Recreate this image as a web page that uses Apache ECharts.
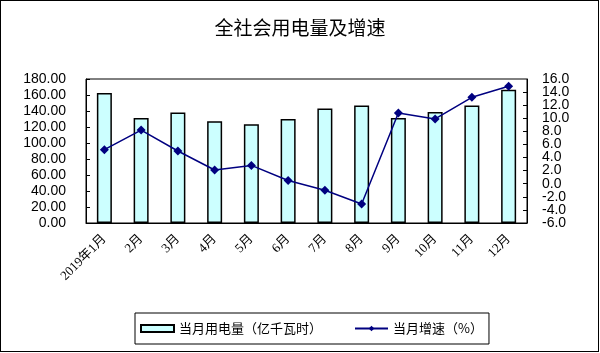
<!DOCTYPE html>
<html>
<head>
<meta charset="utf-8">
<script src="https://cdn.jsdelivr.net/npm/echarts@6/dist/echarts.min.js"></script>
<style>
  html, body { margin: 0; padding: 0; background: #fff; }
  #main { width: 600px; height: 353px; }
  #frame { position: absolute; left: 0; top: 0; width: 599px; height: 352px; border: 1px solid #000; box-sizing: border-box; pointer-events: none; }
</style>
</head>
<body>
<div id="main"></div>
<div id="frame"></div>
<script>
// 月份
const months = ['2019年1月', '2月', '3月', '4月', '5月', '6月', '7月', '8月', '9月', '10月', '11月', '12月']
// 当月用电量（亿千瓦时）
const usage = [162.5, 131.2, 138.0, 127.1, 123.4, 130.0, 143.0, 147.0, 131.2, 138.7, 147.0, 166.7]
// 当月增速（%）
const growth = [5.2, 8.2, 5.0, 2.1, 2.8, 0.5, -1.0, -3.1, 10.8, 9.9, 13.2, 14.9]
// 右轴范围
const rateMin = -6
const rateMax = 16

const chartDom = document.getElementById('main')
const myChart = echarts.init(chartDom)

const sans = "'Liberation Sans', 'Noto Sans CJK SC', sans-serif"

const rightLabel = {
    margin: 15,
    fontFamily: sans,
    fontSize: 14,
    color: '#000'
}

const option = {
    animation: false,
    title: {
        text: '全社会用电量及增速',
        left: 'center',
        top: 13,
        textStyle: {
            fontFamily: "'Noto Sans CJK SC', sans-serif",
            fontSize: 19,
            fontWeight: 'normal',
            color: '#000'
        }
    },
    legend: {
        bottom: 9,
        left: 135,
        borderColor: '#000',
        borderWidth: 1,
        borderRadius: 0,
        padding: [9, 6, 9, 5],
        itemGap: 32,
        itemWidth: 33,
        itemHeight: 7,
        textStyle: {
            fontFamily: "'Noto Sans CJK SC', sans-serif",
            fontSize: 13,
            color: '#000'
        },
        data: [
            { name: '当月用电量（亿千瓦时）', icon: 'rect' },
            { name: '当月增速（%）' }
        ]
    },
    grid: {
        left: 86,
        right: 73,
        top: 79,
        bottom: 130,
        show: true,
        borderColor: '#000',
        borderWidth: 1
    },
    xAxis: {
        type: 'category',
        data: months,
        axisLine: { lineStyle: { color: '#000' } },
        axisTick: { inside: true, length: 4, lineStyle: { color: '#000' } },
        axisLabel: {
            rotate: 45,
            margin: 14,
            fontFamily: "'Liberation Serif', 'Noto Sans CJK SC', serif",
            fontSize: 13,
            color: '#000'
        }
    },
    yAxis: [
        {
            type: 'value',
            min: 0,
            max: 180,
            interval: 20,
            splitLine: { show: false },
            axisLine: { show: true, lineStyle: { color: '#000' } },
            axisTick: { show: true, inside: true, length: 4, lineStyle: { color: '#000' } },
            axisLabel: {
                formatter: v => v.toFixed(2),
                margin: 20,
                showMinLabel: true,
                showMaxLabel: true,
                fontFamily: sans,
                fontSize: 14,
                color: '#000'
            }
        },
        {
            type: 'value',
            position: 'right',
            min: rateMin,
            max: rateMax,
            interval: 2,
            splitLine: { show: false },
            axisLine: { show: true, lineStyle: { color: '#000' } },
            axisTick: { show: true, inside: true, length: 4, lineStyle: { color: '#000' } },
            axisLabel: Object.assign({
                formatter: v => v.toFixed(1),
                showMinLabel: false,
                showMaxLabel: false
            }, rightLabel)
        },
        {
            // 仅显示两端标签（避免被重叠隐藏）
            type: 'value',
            position: 'right',
            offset: 0,
            min: rateMin,
            max: rateMax,
            interval: 2,
            splitLine: { show: false },
            axisLine: { show: false },
            axisTick: { show: false },
            axisLabel: Object.assign({
                formatter: v => (v === rateMin || v === rateMax) ? v.toFixed(1) : '',
                showMinLabel: true,
                showMaxLabel: true
            }, rightLabel)
        }
    ],
    series: [
        {
            name: '当月用电量（亿千瓦时）',
            type: 'bar',
            data: usage,
            barWidth: 15,
            itemStyle: {
                color: '#CCFFFF',
                borderColor: '#000',
                borderWidth: 1.5
            }
        },
        {
            name: '当月增速（%）',
            type: 'line',
            yAxisIndex: 1,
            data: growth,
            symbol: 'diamond',
            symbolSize: 9,
            lineStyle: { color: '#000080', width: 1.5 },
            itemStyle: { color: '#000080' }
        }
    ]
}

myChart.setOption(option)
</script>
</body>
</html>
